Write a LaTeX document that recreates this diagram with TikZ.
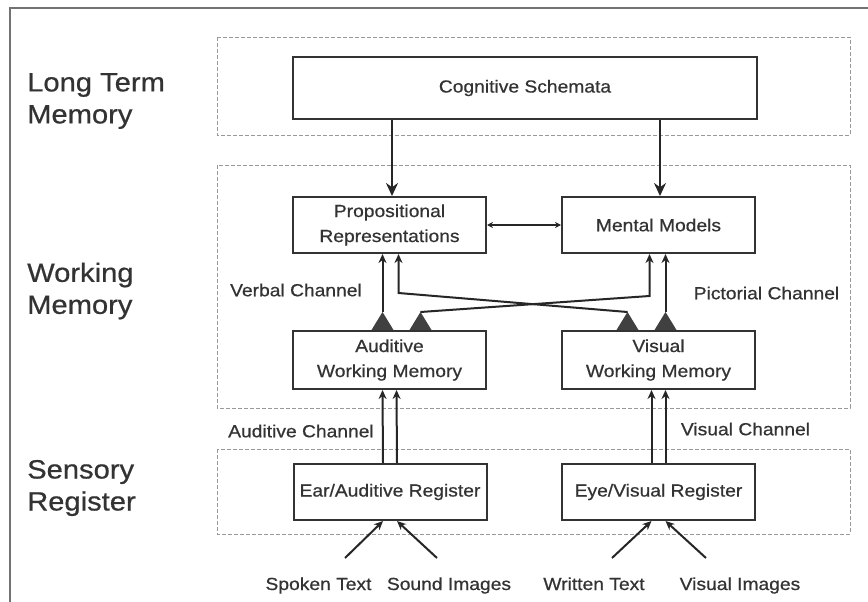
\documentclass[tikz,border=0pt]{standalone}
\usepackage{fontspec}
\setmainfont{Liberation Sans}[FakeStretch=1.1, FakeBold=0.6]
\usetikzlibrary{calc,arrows.meta}

\begin{document}
\begin{tikzpicture}[x=1pt, y=-1pt, >={Stealth[length=9pt,width=8pt]},
    BOX/.style={draw=black!80, line width=2pt, rectangle, minimum width=193pt, minimum height=56pt, inner sep=2pt, align=center, font=\fontsize{17.5}{25}\selectfont, text=black!80},
    LAYER/.style={draw=black!40, line width=0.9pt, dash pattern=on 4pt off 2pt},
    LBL/.style={font=\fontsize{17.5}{21}\selectfont, text=black!80, inner sep=0pt},
    TTL/.style={font=\fontsize{26.5}{32}\selectfont, text=black!80, align=left, anchor=west, inner sep=0pt},
    LINK/.style={line width=2pt, draw=black!85},
    BIG/.style={-{Stealth[length=13pt,width=12pt]}}
    ]
    \useasboundingbox (0,0) rectangle (868,602);
    \fill[white] (0,0) rectangle (868,602);
    % outer frame
    \draw[black!55, line width=2pt] (10,602) -- (10,8) -- (868,8);

    % memory layers
    \draw[LAYER] (217,37) rectangle (850,135);
    \draw[LAYER] (217,165) rectangle (850,408);
    \draw[LAYER] (217,449) rectangle (850,534);
    \node[TTL] (tLTM) at (27,101) {Long Term\\Memory};
    \node[TTL] (tWM) at (27,291) {Working\\Memory};
    \node[TTL] (tSR) at (27,488) {Sensory\\Register};

    % boxes
    \node[BOX, minimum width=464pt, minimum height=62pt] (cog) at (525,88) {Cognitive Schemata};
    \node[BOX] (prop) at (389.5,225) {Propositional\\Representations};
    \node[BOX] (mm) at (658.5,225) {Mental Models};
    \node[BOX, minimum height=58pt] (awm) at (389.5,360) {Auditive\\Working Memory};
    \node[BOX, minimum height=58pt] (vwm) at (658.5,360) {Visual\\Working Memory};
    \node[BOX] (ear) at (390,492) {Ear/Auditive Register};
    \node[BOX] (eye) at (658.5,492) {Eye/Visual Register};

    % long term memory to working memory
    \draw[LINK,BIG] ($(cog.south -| prop.north)+(2.5,0)$) -- ($(prop.north)+(2.5,0)$);
    \draw[LINK,BIG] ($(cog.south -| mm.north)+(1.5,0)$) -- ($(mm.north)+(1.5,0)$);
    \draw[LINK,{Stealth[length=6pt,width=6pt]}-{Stealth[length=6pt,width=6pt]}] (prop.east) -- (mm.west);

    % auditive and visual channels
    \foreach \dx in {-7,7} {
        \draw[LINK,->] ($(ear.north)+(\dx,0)$) -- ($(awm.south)+(\dx,0)$);
        \draw[LINK,->] ($(eye.north)+(\dx,0)$) -- ($(vwm.south)+(\dx,0)$);
    }

    % filters on the working memories
    \foreach \c/\dx in {awm/-7, awm/31, vwm/-31, vwm/7}
        \fill[black!75] ($(\c.north)+(\dx-11,0)$) -- ($(\c.north)+(\dx+11,0)$) -- ($(\c.north)+(\dx,-18)$) -- cycle;

    % verbal and pictorial channels
    \draw[LINK,->] ($(awm.north)+(-7,-18)$) -- ($(prop.south)+(-7,0)$);
    \draw[LINK,->] ($(vwm.north)+(7,-18)$) -- ($(mm.south)+(7,0)$);
    \draw[LINK,->] ($(awm.north)+(31,-18)$) -- ($(mm.south)+(-9,42)$) -- ($(mm.south)+(-9,0)$);
    \draw[LINK,->] ($(vwm.north)+(-31,-18)$) -- ($(prop.south)+(9,39)$) -- ($(prop.south)+(9,0)$);

    \node[LBL] (vc) at (296,290) {Verbal Channel};
    \node[LBL] (pc) at (766.5,293) {Pictorial Channel};
    \node[LBL] (ac) at (301,431) {Auditive Channel};
    \node[LBL] (vic) at (745.5,429) {Visual Channel};

    % inputs
    \node[LBL, anchor=base] (st) at (318.5,590) {Spoken Text};
    \node[LBL, anchor=base] (si) at (449,590) {Sound Images};
    \node[LBL, anchor=base] (wt) at (594,590) {Written Text};
    \node[LBL, anchor=base] (vi) at (740,590) {Visual Images};
    \coordinate (inST) at (345,558);
    \coordinate (inSI) at (437,558);
    \coordinate (inWT) at (612,558);
    \coordinate (inVI) at (706,558);
    \draw[LINK,->] (inST) -- ($(ear.south)+(-7,0)$);
    \draw[LINK,->] (inSI) -- ($(ear.south)+(7,0)$);
    \draw[LINK,->] (inWT) -- ($(eye.south)+(-7,0)$);
    \draw[LINK,->] (inVI) -- ($(eye.south)+(7,0)$);
\end{tikzpicture}
\end{document}
